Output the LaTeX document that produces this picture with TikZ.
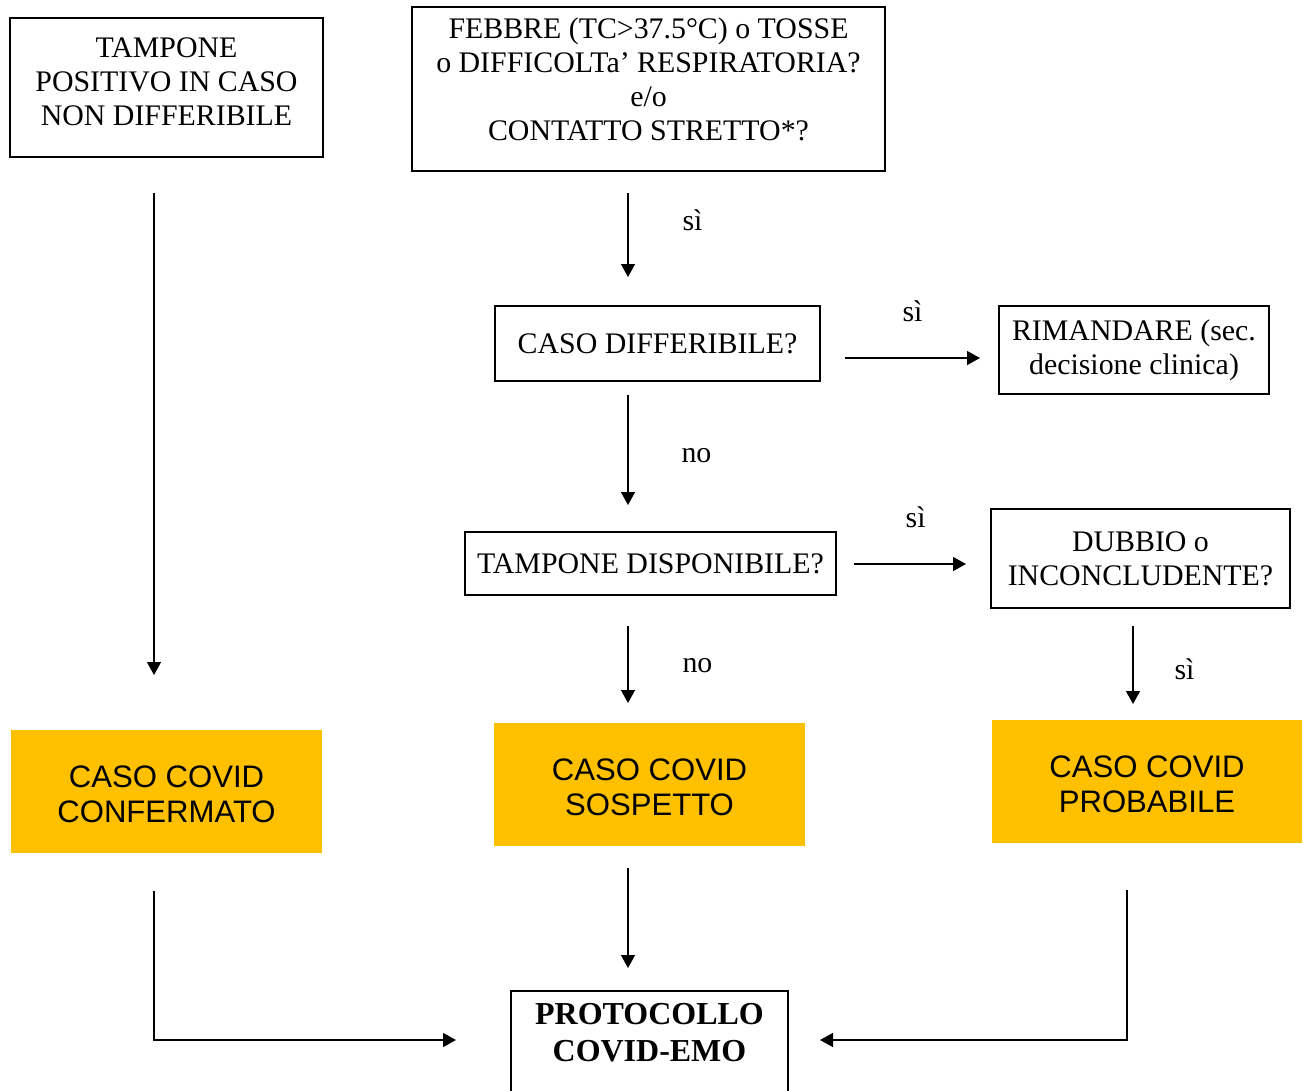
\documentclass[tikz,border=0pt]{standalone}
\usepackage{fontspec}
\setmainfont{Liberation Serif}
\setsansfont{Liberation Sans}
\usetikzlibrary{arrows.meta}
\definecolor{covidorange}{HTML}{FFC000}
\tikzset{
  box/.style={draw, line width=1.1pt, align=center, inner sep=0pt, font=\fontsize{17}{19.4}\selectfont},
  casebox/.style={fill=covidorange, align=center, inner sep=0pt, font=\sffamily\fontsize{17.7}{20.4}\selectfont},
  arr/.style={-{Triangle[width=0.28cm,length=0.26cm]}, line width=0.75pt},
  lbl/.style={font=\fontsize{17}{19.4}\selectfont}
}
\begin{document}
\begin{tikzpicture}[x=0.02cm, y=-0.02cm]
            \useasboundingbox (0, 0) rectangle (1303, 1090);
            \clip (0, 0) rectangle (1303, 1090);
            % domande
            \node (pos)[box, minimum width=6.26cm, minimum height=2.78cm] at (166.5, 87.5) {TAMPONE\\POSITIVO IN CASO\\NON DIFFERIBILE\\[-12.6pt]\mbox{}};
            \node (q1)[box, minimum width=9.46cm, minimum height=3.28cm] at (648.5, 89) {FEBBRE (TC>37.5°C) o TOSSE\\o DIFFICOLTa’ RESPIRATORIA?\\e/o\\CONTATTO STRETTO*?\\[-8pt]\mbox{}};
            \node (diff)[box, minimum width=6.5cm, minimum height=1.5cm] at (657.5, 343.5) {CASO DIFFERIBILE?};
            \node (rim)[box, minimum width=5.4cm, minimum height=1.76cm] at (1134, 350) {RIMANDARE (sec.\\decisione clinica)};
            \node (disp)[box, minimum width=7.42cm, minimum height=1.26cm] at (650.5, 563.5) {TAMPONE DISPONIBILE?};
            \node (dub)[box, minimum width=5.98cm, minimum height=1.98cm] at (1140.5, 558.5) {DUBBIO o\\INCONCLUDENTE?};
            % casi
            \node (conf)[casebox, minimum width=6.22cm, minimum height=2.46cm] at (166.5, 791.5) {\mbox{}\\[-4.9pt]CASO COVID\\CONFERMATO};
            \node (sosp)[casebox, minimum width=6.22cm, minimum height=2.46cm] at (649.5, 784.5) {\mbox{}\\[-4.9pt]CASO COVID\\SOSPETTO};
            \node (prob)[casebox, minimum width=6.2cm, minimum height=2.46cm] at (1147, 781.5) {\mbox{}\\[-4.9pt]CASO COVID\\PROBABILE};
            \node (prot)[box, font=\bfseries\fontsize{18.2}{21}\selectfont, minimum width=5.54cm, minimum height=2.6cm] at (649.5, 1056) {PROTOCOLLO\\COVID-EMO\\\strut};
            % estremi delle frecce
            \coordinate (a1) at (154, 193);
            \coordinate (a2) at (154, 675);
            \coordinate (b1) at (628, 193);
            \coordinate (b2) at (628, 277);
            \coordinate (c1) at (628, 395);
            \coordinate (c2) at (628, 505);
            \coordinate (d1) at (845, 358);
            \coordinate (d2) at (980, 358);
            \coordinate (e1) at (854, 564);
            \coordinate (e2) at (966, 564);
            \coordinate (f1) at (628, 626);
            \coordinate (f2) at (628, 703);
            \coordinate (g1) at (1133, 626);
            \coordinate (g2) at (1133, 704);
            \coordinate (h1) at (628, 868);
            \coordinate (h2) at (628, 968);
            \coordinate (k1) at (154, 891);
            \coordinate (k2) at (456, 1040);
            \coordinate (m1) at (1127, 890);
            \coordinate (m2) at (820, 1040);
            \draw[arr] (a1) -- (a2);
            \draw[arr] (b1) -- (b2) node[lbl, pos=0.33, right=0.96cm]{sì};
            \draw[arr] (c1) -- (c2) node[lbl, pos=0.55, right=0.94cm]{no};
            \draw[arr] (d1) -- (d2) node[lbl, pos=0.5, above=0.6cm]{sì};
            \draw[arr] (e1) -- (e2) node[lbl, pos=0.55, above=0.6cm]{sì};
            \draw[arr] (f1) -- (f2) node[lbl, pos=0.52, right=0.96cm]{no};
            \draw[arr] (g1) -- (g2) node[lbl, pos=0.55, right=0.7cm]{sì};
            \draw[arr] (h1) -- (h2);
            \draw[arr] (k1) |- (k2);
            \draw[arr] (m1) |- (m2);
        \end{tikzpicture}
\end{document}
